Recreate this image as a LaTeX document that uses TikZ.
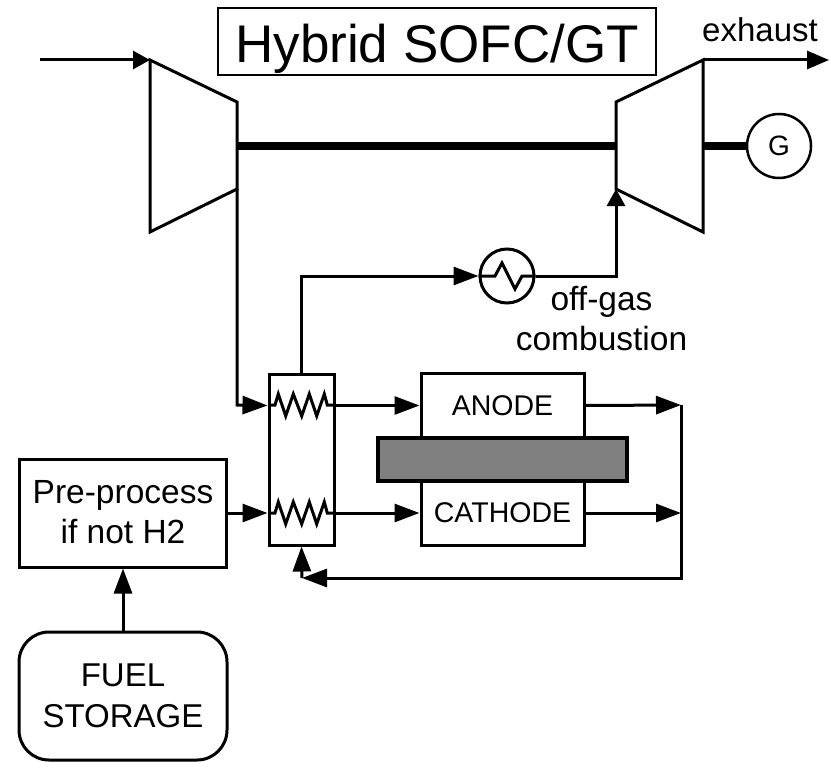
\documentclass[tikz,border=0pt]{standalone}
\usepackage{fontspec}
\setmainfont{Liberation Sans}
\usetikzlibrary{arrows.meta}
\tikzset{
    flow/.style={line width=3pt, -{Triangle[length=25pt, width=18pt]}},
    flowsmall/.style={line width=3pt, -{Triangle[length=17pt, width=18pt]}},
    pipe/.style={line width=3pt, line join=miter},
    shaft/.style={line width=8pt}
}
\begin{document}
\begin{tikzpicture}[
    x=1pt, y=-1pt,
    every node/.style={draw, line width=3pt, inner sep=0pt, align=center, font=\fontsize{28.5}{39}\selectfont}
]
\useasboundingbox (0,0) rectangle (829,762);
% Machines
\coordinate (comp1) at (150,60);
\coordinate (comp2) at (237,102);
\coordinate (comp3) at (237,189);
\coordinate (comp4) at (150,232);
\coordinate (turb1) at (616,102);
\coordinate (turb2) at (703,60);
\coordinate (turb3) at (703,232);
\coordinate (turb4) at (616,189);
\draw[pipe] (comp1) -- (comp2) -- (comp3) -- (comp4) -- cycle;
\draw[pipe] (turb1) -- (turb2) -- (turb3) -- (turb4) -- cycle;
\node[line width=1.5pt, minimum width=438pt, minimum height=67pt, text height=42pt, text depth=0pt, font=\fontsize{53}{60}\selectfont] (title) at (437,41.5) {Hybrid SOFC/GT};
\node[circle, line width=2.5pt, minimum size=64pt, font=\fontsize{28}{32}\selectfont] (gen) at (779,146) {G};
\coordinate (shaftl) at (237,146);
\coordinate (shaftr) at (616,146);
\coordinate (shaftg) at (703,146);
\draw[shaft] (shaftl) -- (shaftr);
\draw[shaft] (shaftg) -- (gen.west);
\coordinate (inlet) at (40,60);
\coordinate (outlet) at (829,60);
\draw[flowsmall] (inlet) -- (comp1);
\draw[line width=3pt, -{Triangle[length=22pt, width=18pt]}] (turb2) -- (outlet);
\node[draw=none, font=\fontsize{33}{39}\selectfont, anchor=base] (exhaust) at (760,42) {exhaust};
% Stack and heat exchanger
\node[minimum width=65pt, minimum height=171pt] (hx) at (301.5,459.5) {};
\node[minimum width=163pt, minimum height=65pt] (anode) at (502.5,405.5) {ANODE};
\node[minimum width=163pt, minimum height=65pt] (cathode) at (502.5,513) {CATHODE};
\node[fill=black!50, line width=3.5pt, minimum width=249pt, minimum height=43pt] (membrane) at (502.5,459.5) {};
\foreach \y in {405,513} {
    \draw[pipe] (269,\y) -- (275,\y) -- (278.3,\y-11) -- (285.7,\y+11) -- (293.3,\y-11) -- (301.7,\y+11) -- (309.3,\y-11) -- (316.7,\y+11) -- (324.3,\y-11) -- (327.3,\y) -- (334,\y);
}
\coordinate (hxa) at (hx.east |- anode.west);
\coordinate (hxc) at (hx.east |- cathode.west);
\draw[flow] (hxa) -- (anode.west);
\draw[flow] (hxc) -- (cathode.west);
% Pre-processing
\node[minimum width=207pt, minimum height=108pt, text depth=3pt, font=\fontsize{33.5}{40}\selectfont] (pre) at (123,513) {Pre-process\\if not H2};
\node[rounded corners=30pt, minimum width=208pt, minimum height=128pt, font=\fontsize{33}{41}\selectfont] (fuel) at (123,696) {FUEL\\STORAGE};
\draw[flow] (fuel.north) -- (pre.south);
\draw[flow] (pre.east |- hxc) -- (hx.west |- hxc);
\draw[flow] (comp3) -- (237,405) -- (hx.west |- hxa);
% Off-gas line
\node[circle, minimum size=54pt] (burner) at (507,276) {};
\draw[pipe] (burner.west) -- (495,276) -- (502,263) -- (515,289) -- (522,276) -- (burner.east);
\draw[flow] (hx.north) -- (hx.north |- burner) -- (burner.west);
\draw[flowsmall] (burner.east) -- (turb4 |- burner) -- (turb4);
\node[draw=none, font=\fontsize{33.5}{40}\selectfont] (offgas) at (601.5,319) {off-gas\\combustion};
% Return line
\coordinate (ajoin) at (681,405);
\coordinate (cjoin) at (681,513);
\coordinate (corner) at (681,578);
\coordinate (back) at (302,578);
\draw[flow] (anode.east) -- (ajoin);
\draw[flow] (cathode.east) -- (cjoin);
\draw[flow] (ajoin) -- (corner) -- (back);
\draw[flow] (back) -- (hx.south);
\end{tikzpicture}
\end{document}
